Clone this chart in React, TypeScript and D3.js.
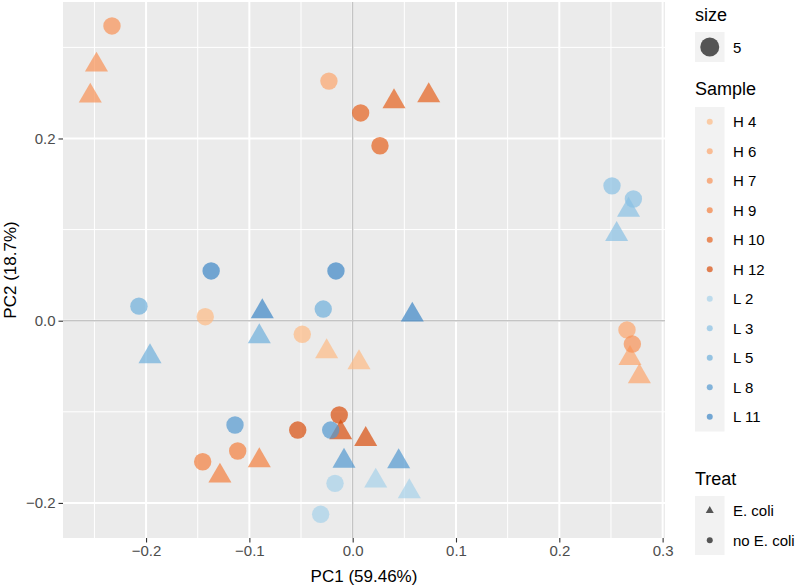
import React, { useEffect, useRef } from 'react';
import * as d3 from 'd3';

const SAMPLES = ['H 4', 'H 6', 'H 7', 'H 9', 'H 10', 'H 12', 'L 2', 'L 3', 'L 5', 'L 8', 'L 11'];
const SAMPLE_COLORS = [
  '#fdbb84', '#fca56c', '#f89256', '#f37f3d', '#e6611c', '#d94d0c',
  '#a6d2ea', '#89c1e4', '#6eafdb', '#5398d0', '#3c86c6',
];
const TREATS = ['E. coli', 'no E. coli'];

// no E. coli samples (drawn as circles)
const CTRL_SAMPLE = ['H 4', 'H 4', 'H 6', 'H 6', 'H 7', 'H 7', 'H 9', 'H 9', 'H 10', 'H 10', 'H 12', 'H 12',
  'L 2', 'L 2', 'L 3', 'L 3', 'L 5', 'L 5', 'L 8', 'L 8', 'L 11', 'L 11'];
const CTRL_PC1 = [-0.1427, -0.0488, -0.023, 0.2655, -0.233, 0.2707, -0.1113, -0.1452, 0.0077, 0.0264, -0.0532, -0.013,
  -0.0171, -0.031, 0.251, 0.2717, -0.2069, -0.0285, -0.1139, -0.0213, -0.137, -0.0162];
const CTRL_PC2 = [0.0044, -0.0149, 0.263, -0.0101, 0.3235, -0.0256, -0.143, -0.1548, 0.228, 0.192, -0.12, -0.1035,
  -0.1785, -0.2125, 0.148, 0.1336, 0.016, 0.0128, -0.1145, -0.12, 0.0546, 0.0546];

// E. coli samples (drawn as triangles)
const ECOLI_SAMPLE = CTRL_SAMPLE;
const ECOLI_PC1 = [-0.0252, 0.0061, 0.2684, 0.2775, -0.248, -0.254, -0.0904, -0.1285, 0.040, 0.0736, -0.0116, 0.0126,
  0.0223, 0.0548, 0.267, 0.2555, -0.0904, -0.1962, -0.0084, 0.0445, -0.0875, 0.0577];
const ECOLI_PC2 = [-0.0339, -0.046, -0.0413, -0.0614, 0.2807, 0.2467, -0.1536, -0.1704, 0.2405, 0.2471, -0.1228, -0.1302,
  -0.1759, -0.1876, 0.1215, 0.0948, -0.0174, -0.0394, -0.154, -0.1546, 0.0100, 0.0063];

const X_TICKS = [-0.2, -0.1, 0.0, 0.1, 0.2, 0.3];
const X_MINOR = [-0.25, -0.15, -0.05, 0.05, 0.15, 0.25];
const Y_TICKS = [-0.2, 0.0, 0.2];
const Y_MINOR = [-0.1, 0.1, 0.3];

const FONT = '"Liberation Sans", Arial, Helvetica, sans-serif';

export default function App() {
  const svgRef = useRef<SVGSVGElement>(null);

  useEffect(() => {
    document.body.style.margin = '0';
    if (!svgRef.current) return;
    const svg = d3.select(svgRef.current);
    svg.selectAll('*').remove();

    const left = 63, right = 665, top = 2, bottom = 538;

    const x = d3.scaleLinear().domain([-0.2804, 0.3023]).range([left, right]);
    const y = d3.scaleLinear().domain([-0.2385, 0.3498]).range([bottom, top]);
    const color = d3.scaleOrdinal<string>().domain(SAMPLES).range(SAMPLE_COLORS);
    const fmt = d3.format('.1f');

    // panel
    svg.append('rect')
      .attr('x', left).attr('y', top)
      .attr('width', right - left).attr('height', bottom - top)
      .attr('fill', '#ebebeb');

    const grid = svg.append('g');
    grid.selectAll('.xmin').data(X_MINOR).enter().append('line')
      .attr('x1', d => x(d)).attr('x2', d => x(d)).attr('y1', top).attr('y2', bottom)
      .attr('stroke', '#fff').attr('stroke-width', 1);
    grid.selectAll('.ymin').data(Y_MINOR).enter().append('line')
      .attr('y1', d => y(d)).attr('y2', d => y(d)).attr('x1', left).attr('x2', right)
      .attr('stroke', '#fff').attr('stroke-width', 1);
    grid.selectAll('.xmaj').data(X_TICKS).enter().append('line')
      .attr('x1', d => x(d)).attr('x2', d => x(d)).attr('y1', top).attr('y2', bottom)
      .attr('stroke', '#fff').attr('stroke-width', 2);
    grid.selectAll('.ymaj').data(Y_TICKS).enter().append('line')
      .attr('y1', d => y(d)).attr('y2', d => y(d)).attr('x1', left).attr('x2', right)
      .attr('stroke', '#fff').attr('stroke-width', 2);

    // reference lines at 0
    svg.append('line')
      .attr('x1', x(0)).attr('x2', x(0)).attr('y1', top).attr('y2', bottom)
      .attr('stroke', '#c4c4c4').attr('stroke-width', 1.4);
    svg.append('line')
      .attr('y1', y(0)).attr('y2', y(0)).attr('x1', left).attr('x2', right)
      .attr('stroke', '#c4c4c4').attr('stroke-width', 1.4);

    // axes
    const xAxis = svg.append('g')
      .attr('transform', `translate(0,${bottom})`)
      .call(d3.axisBottom(x).tickValues(X_TICKS).tickFormat(d => fmt(d as number)).tickSizeInner(4.5).tickSizeOuter(0).tickPadding(3));
    const yAxis = svg.append('g')
      .attr('transform', `translate(${left},0)`)
      .call(d3.axisLeft(y).tickValues(Y_TICKS).tickFormat(d => fmt(d as number)).tickSizeInner(4.5).tickSizeOuter(0).tickPadding(3));
    [xAxis, yAxis].forEach(g => {
      g.select('.domain').remove();
      g.selectAll('.tick line').attr('stroke', '#333').attr('stroke-width', 1.1);
      g.selectAll('.tick text').attr('fill', '#4d4d4d').attr('font-size', 15).attr('font-family', FONT);
    });

    svg.append('text')
      .attr('x', (left + right) / 2).attr('y', 582)
      .attr('text-anchor', 'middle').attr('font-size', 17).attr('font-family', FONT)
      .text('PC1 (59.46%)');
    svg.append('text')
      .attr('transform', `translate(16,${(top + bottom) / 2}) rotate(-90)`)
      .attr('text-anchor', 'middle').attr('font-size', 17).attr('font-family', FONT)
      .text('PC2 (18.7%)');

    // points
    const tri = d3.symbol().type(d3.symbolTriangle).size(230);
    const pts = svg.append('g');
    SAMPLES.forEach(s => {
      CTRL_SAMPLE.forEach((cs, i) => {
        if (cs !== s) return;
        pts.append('circle')
          .attr('cx', x(CTRL_PC1[i])).attr('cy', y(CTRL_PC2[i])).attr('r', 8.7)
          .attr('fill', color(s)).attr('fill-opacity', 0.7);
      });
      ECOLI_SAMPLE.forEach((es, i) => {
        if (es !== s) return;
        pts.append('path')
          .attr('d', tri()!)
          .attr('transform', `translate(${x(ECOLI_PC1[i])},${y(ECOLI_PC2[i])})`)
          .attr('fill', color(s)).attr('fill-opacity', 0.7);
      });
    });

    // legends
    const lg = svg.append('g').attr('font-family', FONT);
    const keyX = 695, keyW = 29.5, keyH = 29.5, labX = 733;

    lg.append('text').attr('x', keyX).attr('y', 20.5).attr('font-size', 18).text('size');
    lg.append('rect').attr('x', keyX).attr('y', 32).attr('width', keyW).attr('height', 30).attr('fill', '#f2f2f2');
    lg.append('circle').attr('cx', keyX + keyW / 2).attr('cy', 47).attr('r', 9.5)
      .attr('fill', '#000').attr('fill-opacity', 0.65);
    lg.append('text').attr('x', labX).attr('y', 52.5).attr('font-size', 15).text('5');

    lg.append('text').attr('x', keyX).attr('y', 95).attr('font-size', 18).text('Sample');
    const sTop = 107;
    lg.append('rect').attr('x', keyX).attr('y', sTop).attr('width', keyW).attr('height', keyH * SAMPLES.length).attr('fill', '#f2f2f2');
    SAMPLES.forEach((s, i) => {
      const cy = sTop + keyH * i + keyH / 2;
      lg.append('circle').attr('cx', keyX + keyW / 2).attr('cy', cy).attr('r', 3)
        .attr('fill', color(s)).attr('fill-opacity', 0.7);
      lg.append('text').attr('x', labX).attr('y', cy + 5.5).attr('font-size', 15).text(s);
    });

    lg.append('text').attr('x', keyX).attr('y', 485).attr('font-size', 18).text('Treat');
    const tTop = 496;
    lg.append('rect').attr('x', keyX).attr('y', tTop).attr('width', keyW).attr('height', keyH * TREATS.length).attr('fill', '#f2f2f2');
    const smallTri = d3.symbol().type(d3.symbolTriangle).size(28);
    TREATS.forEach((t, i) => {
      const cy = tTop + keyH * i + keyH / 2;
      if (t === 'E. coli') {
        lg.append('path').attr('d', smallTri()!)
          .attr('transform', `translate(${keyX + keyW / 2},${cy})`)
          .attr('fill', '#000').attr('fill-opacity', 0.65);
      } else {
        lg.append('circle').attr('cx', keyX + keyW / 2).attr('cy', cy).attr('r', 3)
          .attr('fill', '#000').attr('fill-opacity', 0.65);
      }
      lg.append('text').attr('x', labX).attr('y', cy + 5.5).attr('font-size', 15).text(t);
    });
  }, []);

  return <svg ref={svgRef} width={798} height={587} style={{ display: 'block', background: '#fff' }} />;
}
